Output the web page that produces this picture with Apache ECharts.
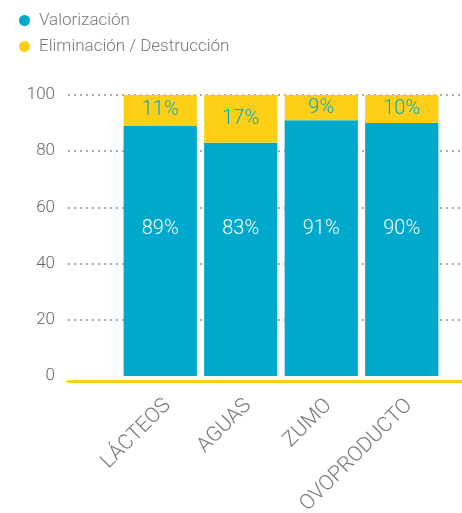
<!DOCTYPE html>
<html>
<head>
<meta charset="utf-8">
<script src="https://cdn.jsdelivr.net/npm/echarts@6/dist/echarts.min.js"></script>
<style>
  html, body { margin: 0; padding: 0; background: #fff; }
  #chart { width: 462px; height: 513px; }
</style>
</head>
<body>
<div id="chart"></div>
<script>
// Product categories and the share of each treatment route (%)
const categories = ['LÁCTEOS', 'AGUAS', 'ZUMO', 'OVOPRODUCTO'];
const valorizacion = [89, 83, 91, 90];
const eliminacion = [11, 17, 9, 10];
const yTicks = [0, 20, 40, 60, 80, 100];

const BLUE = '#00A8CC';
const YELLOW = '#FDD017';
const FONT = 'Roboto';

const chart = echarts.init(document.getElementById('chart'));

chart.setOption({
  animation: false,
  textStyle: { fontFamily: FONT },
  legend: {
    orient: 'vertical',
    left: 14,
    top: 7,
    itemGap: 9,
    itemWidth: 11,
    itemHeight: 11,
    icon: 'circle',
    textStyle: {
      fontFamily: FONT, fontWeight: 300, fontSize: 17, color: '#777',
      padding: [0, 0, 0, 4]
    },
    data: ['Valorización', 'Eliminación / Destrucción']
  },
  grid: [
    // background grid: value ticks, dotted guides and the yellow base line
    { left: 68, right: 0, top: 95, bottom: 137, outerBoundsMode: 'none', containLabel: false },
    // bars
    { left: 120, right: 20, top: 95, bottom: 137, outerBoundsMode: 'none', containLabel: false }
  ],
  xAxis: [
    {
      gridIndex: 0, type: 'value', min: 0, max: 1,
      axisLine: { show: true, onZero: false, lineStyle: { color: YELLOW, width: 3 } },
      offset: 5,
      axisTick: { show: false }, axisLabel: { show: false }, splitLine: { show: false }
    },
    {
      gridIndex: 1, type: 'category', data: categories,
      axisLine: { show: false }, axisTick: { show: false },
      axisLabel: {
        rotate: 45, margin: 19, color: '#777',
        align: 'right', verticalAlign: 'top',
        fontFamily: FONT, fontWeight: 300, fontSize: 21
      }
    }
  ],
  yAxis: [
    {
      gridIndex: 0, type: 'value', min: 0, max: 100, interval: 20,
      axisLine: { show: false }, axisTick: { show: false },
      axisLabel: {
        margin: 13, color: '#666', fontFamily: FONT, fontWeight: 300, fontSize: 17,
        verticalAlign: 'middle',
        formatter: v => (yTicks.includes(v) ? String(v) : '')
      },
      splitLine: {
        show: true,
        showMinLine: false,
        lineStyle: { color: '#aaa', width: 2, type: [2, 4] }
      }
    },
    {
      gridIndex: 1, type: 'value', min: 0, max: 100,
      show: false, splitLine: { show: false }
    }
  ],
  series: [
    {
      name: 'Valorización', type: 'bar', stack: 'total',
      xAxisIndex: 1, yAxisIndex: 1,
      barCategoryGap: '9%',
      itemStyle: { color: BLUE },
      data: valorizacion,
      label: {
        show: true, position: 'insideBottom', distance: 137,
        color: '#fff', fontFamily: FONT, fontWeight: 300, fontSize: 20,
        formatter: p => p.value + '%'
      }
    },
    {
      name: 'Eliminación / Destrucción', type: 'bar', stack: 'total',
      xAxisIndex: 1, yAxisIndex: 1,
      itemStyle: { color: YELLOW },
      data: eliminacion,
      label: {
        show: true, position: 'inside',
        color: BLUE, fontFamily: FONT, fontWeight: 300, fontSize: 20,
        formatter: p => p.value + '%'
      }
    }
  ]
});
</script>
</body>
</html>
